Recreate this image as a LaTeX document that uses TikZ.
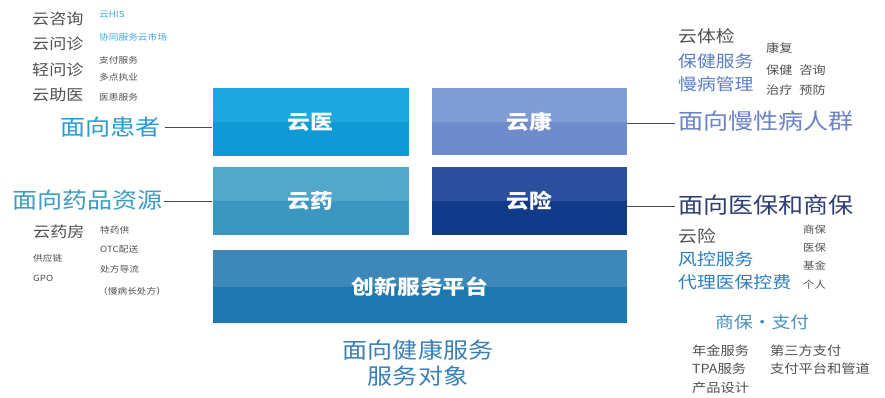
\documentclass[tikz,border=0pt]{standalone}
\usepackage{fontspec}
\setmainfont[FakeStretch=1.14]{Noto Sans CJK SC}
\usetikzlibrary{positioning}
\definecolor{yiT}{HTML}{1CA8DF}\definecolor{yiB}{HTML}{0F9AD6}
\definecolor{kangT}{HTML}{819DD5}\definecolor{kangB}{HTML}{6F8BCB}
\definecolor{yaoT}{HTML}{52A8C9}\definecolor{yaoB}{HTML}{3B97C0}
\definecolor{xianT}{HTML}{2C4F9E}\definecolor{xianB}{HTML}{113B8A}
\definecolor{pingT}{HTML}{3D88B9}\definecolor{pingB}{HTML}{1E78B0}
\definecolor{txgray}{HTML}{505050}
\definecolor{txcyan}{HTML}{2B9AD6}
\definecolor{txlight}{HTML}{3FA9E5}
\definecolor{txpurple}{HTML}{5A7FC8}
\definecolor{txpurple2}{HTML}{6C84C4}
\definecolor{txteal}{HTML}{3E9CC0}
\definecolor{txnavy}{HTML}{2F3F73}
\definecolor{txblue}{HTML}{2B7EC1}
\definecolor{txsteel}{HTML}{4A90C0}
\definecolor{txhealth}{HTML}{3A7FB5}
\tikzset{
  box/.style 2 args={draw=none, fill=#1, inner sep=0pt, text=white,
    font=\fontsize{20}{22}\selectfont\bfseries,
    path picture={\fill[#2] (path picture bounding box.west) rectangle (path picture bounding box.south east);}},
  big/.style={anchor=west, inner sep=0pt, font=\fontsize{22}{24}\selectfont},
  mid/.style={anchor=west, inner sep=0pt, font=\fontsize{15}{17}\selectfont, text=txgray},
  mid2/.style={anchor=west, inner sep=0pt, font=\fontsize{16.5}{18}\selectfont},
  sml/.style={anchor=west, inner sep=0pt, font=\fontsize{8.5}{10}\selectfont, text=txgray},
  smr/.style={anchor=west, inner sep=0pt, font=\fontsize{10}{12}\selectfont, text=txgray},
  smf/.style={anchor=west, inner sep=0pt, font=\fontsize{11.5}{13}\selectfont, text=txgray},
  smk/.style={anchor=west, inner sep=0pt, font=\fontsize{12.5}{14}\selectfont, text=txgray},
  conn/.style={draw=black!70, line width=1pt},
}
\begin{document}
\begin{tikzpicture}[x=1pt,y=-1pt]
\useasboundingbox (0,0) rectangle (885,397);
\fill[white] (0,0) rectangle (885,397);
% boxes
\node[box={yiT}{yiB}, minimum width=196pt, minimum height=68pt] (yi) at (310.5,122) {云医};
\node[box={kangT}{kangB}, minimum width=195pt, minimum height=67pt] (kang) at (529.5,121.5) {云康};
\node[box={yaoT}{yaoB}, minimum width=196pt, minimum height=68pt] (yao) at (310.5,201) {云药};
\node[box={xianT}{xianB}, minimum width=195pt, minimum height=68pt] (xian) at (529.5,201) {云险};
\node[box={pingT}{pingB}, minimum width=414pt, minimum height=73pt] (ping) at (420,286.5) {创新服务平台};
% left top
\node[mid] (a1) at (32,19) {云咨询};
\node[mid] (a2) at (32,44) {云问诊};
\node[mid] (a3) at (32,70) {轻问诊};
\node[mid] (a4) at (32,95) {云助医};
\node[sml, text=txlight] (b1) at (99,15) {云HIS};
\node[sml, text=txlight] (b2) at (99,37) {协同服务云市场};
\node[sml] (b3) at (99,60) {支付服务};
\node[sml] (b4) at (99,77) {多点执业};
\node[sml] (b5) at (99,97) {医患服务};
\node[big, text=txcyan] (huanzhe) at (60,127) {面向患者};
\draw[conn] (huanzhe.east) ++(4,0) coordinate (h1) -- (h1 -| yi.west);
% left middle
\node[big, text=txteal] (yaopin) at (12,200) {面向药品资源};
\draw[conn] (yaopin.east) ++(1,1) coordinate (y1) -- (y1 -| yao.west);
\node[mid] (c1) at (33,232) {云药房};
\node[sml] (c2) at (33,258) {供应链};
\node[sml] (c3) at (33,278) {GPO};
\node[sml] (d1) at (100,230) {特药供};
\node[sml] (d2) at (100,249) {OTC配送};
\node[sml] (d3) at (100,269) {处方导流};
\node[sml] (d4) at (98,291) {（慢病长处方）};
% right top
\node[mid2, text=txgray] (e1) at (678,36) {云体检};
\node[mid2, text=txpurple] (e2) at (678,61) {保健服务};
\node[mid2, text=txpurple] (e3) at (678,84) {慢病管理};
\node[smf] (f1) at (766,48) {康复};
\node[smf] (f2) at (766,70) {保健\hspace{7pt}咨询};
\node[smf] (f3) at (766,90) {治疗\hspace{7pt}预防};
\node[big, text=txpurple2] (manbing) at (678,121) {面向慢性病人群};
\draw[conn] (manbing.west) ++(-3,2) coordinate (m1) -- (m1 -| kang.east);
% right middle
\node[big, text=txnavy] (yibao) at (678,205) {面向医保和商保};
\draw[conn] (yibao.west) ++(-3,1) coordinate (x1) -- (x1 -| xian.east);
\node[mid2, text=txgray] (g1) at (678,236) {云险};
\node[mid2, text=txblue] (g2) at (678,259) {风控服务};
\node[mid2, text=txblue] (g3) at (678,282) {代理医保控费};
\node[smr] (h1) at (803,230) {商保};
\node[smr] (h2) at (803,248) {医保};
\node[smr] (h3) at (803,266) {基金};
\node[smr] (h4) at (803,285) {个人};
\node[mid2, text=txsteel] (zhifu) at (715,322) {商保・支付};
\node[smk] (k1) at (692,351) {年金服务};
\node[smk] (k2) at (692,369) {TPA服务};
\node[smk] (k3) at (692,388) {产品设计};
\node[smk] (k4) at (770,351) {第三方支付};
\node[smk] (k5) at (770,369) {支付平台和管道};
% bottom
\node[inner sep=0pt, text=txhealth, font=\fontsize{22}{24}\selectfont] (jk1) at (418,350) {面向健康服务};
\node[inner sep=0pt, text=txhealth, font=\fontsize{22}{24}\selectfont] (jk2) at (418,376) {服务对象};
\end{tikzpicture}
\end{document}
